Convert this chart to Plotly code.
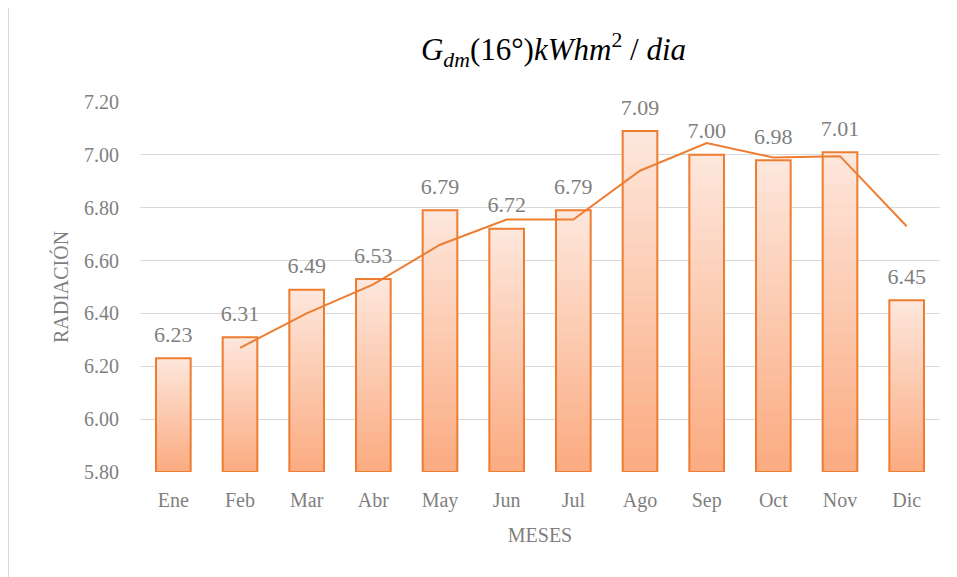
import plotly.graph_objects as go

# data
meses = ['Ene', 'Feb', 'Mar', 'Abr', 'May', 'Jun', 'Jul', 'Ago', 'Sep', 'Oct', 'Nov', 'Dic']
radiacion = [6.23, 6.31, 6.49, 6.53, 6.79, 6.72, 6.79, 7.09, 7.00, 6.98, 7.01, 6.45]
tendencia = [None, 6.27, 6.40, 6.51, 6.66, 6.755, 6.755, 6.94, 7.045, 6.99, 6.995, 6.73]
y_ticks = [5.80, 6.00, 6.20, 6.40, 6.60, 6.80, 7.00, 7.20]

BASE = 5.8
FONT = 'Times New Roman, Liberation Serif, serif'
GRIS = '#7f7f7f'
NARANJA = '#ED7D31'

fig = go.Figure()

# gradient fill: nested bars, tallest/lightest first, shorter/darker on top
n_slices = 30
top_rgb = (253, 230, 219)
bot_rgb = (251, 172, 130)
for k in range(n_slices - 1, -1, -1):
    t = k / (n_slices - 1)
    c = tuple(round(bot_rgb[i] + (top_rgb[i] - bot_rgb[i]) * t) for i in range(3))
    fig.add_trace(go.Bar(
        x=meses, y=[(v - BASE) * (k + 1) / n_slices for v in radiacion],
        base=BASE,
        marker=dict(color='rgb(%d,%d,%d)' % c, line=dict(width=0)),
        width=0.52, offsetgroup='a', showlegend=False, hoverinfo='skip'
    ))

# outline
fig.add_trace(go.Bar(
    x=meses, y=[v - BASE for v in radiacion], base=BASE,
    marker=dict(color='rgba(0,0,0,0)', line=dict(color=NARANJA, width=2)),
    width=0.52, offsetgroup='a', showlegend=False
))

fig.add_trace(go.Scatter(
    x=meses, y=tendencia, mode='lines',
    line=dict(color=NARANJA, width=2), showlegend=False
))

# value labels
fig.add_trace(go.Scatter(
    x=meses, y=radiacion, mode='markers+text',
    marker=dict(size=16, opacity=0),
    text=['%.2f' % v for v in radiacion], textposition='top center',
    textfont=dict(family=FONT, size=22, color=GRIS),
    cliponaxis=False, showlegend=False, hoverinfo='skip'
))

fig.update_layout(
    width=957, height=577,
    margin=dict(l=132, r=25, t=94, b=113),
    paper_bgcolor='white', plot_bgcolor='white',
    barmode='overlay',
    title=dict(
        text='<i>G</i><sub><i>dm</i></sub>(16°)<i>kWhm</i><sup>2</sup> / <i>dia</i>',
        x=0.57, xanchor='center', y=0.928, yanchor='middle',
        font=dict(family=FONT, size=31, color='black')
    ),
    font=dict(family=FONT, color=GRIS),
    shapes=[dict(type='rect', xref='paper', yref='paper',
                 x0=-0.165, x1=1.05, y0=-0.32, y1=1.259,
                 line=dict(color='#d9d9d9', width=2), layer='below')]
)

fig.update_xaxes(
    range=[-0.5, 11.5],
    showgrid=False, showline=False,
    ticks='outside', ticklen=10, tickcolor='rgba(0,0,0,0)',
    tickfont=dict(family=FONT, size=20, color=GRIS),
    title=dict(text='MESES', font=dict(family=FONT, size=20, color=GRIS), standoff=16)
)
fig.update_yaxes(
    range=[BASE, 7.2], tickvals=y_ticks, tickformat='.2f',
    showgrid=True, gridcolor='#d9d9d9', gridwidth=1,
    zeroline=False, showline=False,
    ticks='outside', ticklen=16, tickcolor='rgba(0,0,0,0)',
    tickfont=dict(family=FONT, size=20, color=GRIS),
    title=dict(text='RADIACIÓN', font=dict(family=FONT, size=20, color=GRIS), standoff=10)
)

fig.write_html('out.html')
